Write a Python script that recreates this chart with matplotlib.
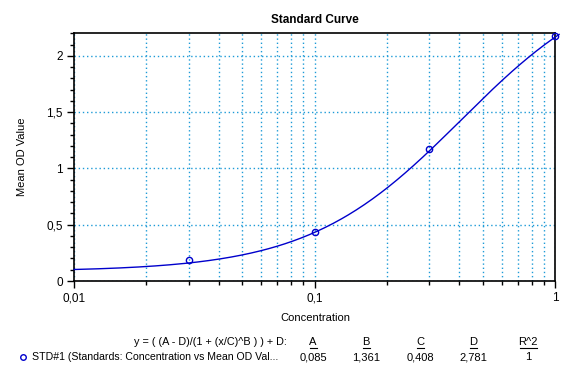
import numpy as np
import matplotlib
matplotlib.use("Agg")
import matplotlib.pyplot as plt
from matplotlib.ticker import FixedLocator, MultipleLocator, FuncFormatter, LogLocator

plt.rcParams["font.family"] = ["Liberation Sans", "DejaVu Sans"]
plt.rcParams["font.size"] = 8

# standards
conc = [0.03, 0.1, 0.3, 1.0]
mean_od = [0.187, 0.436, 1.17, 2.18]

# 4PL fit parameters shown in the table
param_names = ["A", "B", "C", "D", "R^2"]
param_text = ["0,085", "1,361", "0,408", "2,781", "1"]
A, B, C, D = 0.085, 1.361, 0.408, 2.781

blue = "#0000cc"
grid_blue = "#1e9bd7"

fig = plt.figure(figsize=(5.86, 3.82), dpi=100)
ax = fig.add_axes([74 / 586, 101 / 382, 481 / 586, 248 / 382])

xs = np.logspace(np.log10(0.01), np.log10(1.04), 300)
ys = (A - D) / (1 + (xs / C) ** B) + D
ax.plot(xs, ys, color=blue, lw=1, clip_on=False, zorder=3)
ax.plot(conc, mean_od, "o", mfc="none", mec=blue, ms=4.5, mew=1, zorder=4, clip_on=False)

ax.set_xscale("log")
ax.set_xlim(0.01, 1)
ax.set_ylim(0, 2.204)

ax.xaxis.set_major_locator(FixedLocator([0.01, 0.1, 1]))
ax.xaxis.set_minor_locator(LogLocator(base=10, subs=np.arange(2, 10)))
ax.yaxis.set_major_locator(FixedLocator([0, 0.5, 1, 1.5, 2]))
ax.yaxis.set_minor_locator(MultipleLocator(0.1))

comma = FuncFormatter(lambda v, p: ("%g" % v).replace(".", ","))
ax.xaxis.set_major_formatter(comma)
ax.xaxis.set_minor_formatter(FuncFormatter(lambda v, p: ""))
ax.yaxis.set_major_formatter(comma)

ax.tick_params(which="both", direction="out", color="black", width=1)
ax.tick_params(which="major", length=5, labelsize=8.5, pad=3)
ax.tick_params(which="minor", length=3)

ax.grid(True, which="major", axis="both", color=grid_blue, ls=(0, (1, 2)), lw=1)
ax.grid(True, which="minor", axis="x", color=grid_blue, ls=(0, (1, 2)), lw=1)
for s in ax.spines.values():
    s.set_color("black")
    s.set_linewidth(1.2)

fig.text(315 / 586, 1 - 20 / 382, "Standard Curve", ha="center", va="center",
         fontsize=8.5, fontweight="bold")
fig.text(315 / 586, 1 - 318 / 382, "Concentration", ha="center", va="center", fontsize=8)
fig.text(22 / 586, 1 - 157 / 382, "Mean OD Value", ha="center", va="center",
         rotation=90, fontsize=8)

# legend / fit table
fig.text(287 / 586, 1 - 342 / 382, "y = ( (A - D)/(1 + (x/C)^B ) ) + D:",
         ha="right", va="center", fontsize=7.8)
fig.lines.append(plt.Line2D([23 / 586], [1 - 357 / 382], marker="o", mfc="none",
                            mec=blue, ms=4, mew=1, transform=fig.transFigure))
fig.text(32 / 586, 1 - 357 / 382, "STD#1 (Standards: Concentration vs Mean OD Val...",
         ha="left", va="center", fontsize=7.6)
col_x = [313, 366, 420, 473, 528]
for cx, name, val in zip(col_x, param_names, param_text):
    fig.text(cx / 586, 1 - 342 / 382, name, ha="center", va="center", fontsize=8)
    w = 7 if len(name) == 1 else 17
    fig.lines.append(plt.Line2D([(cx - w / 2) / 586, (cx + w / 2) / 586],
                                [1 - 347.5 / 382, 1 - 347.5 / 382], color="black", lw=0.8,
                                transform=fig.transFigure))
    fig.text(cx / 586, 1 - 357 / 382, val, ha="center", va="center", fontsize=8)

fig.savefig("out.png", dpi=100)
